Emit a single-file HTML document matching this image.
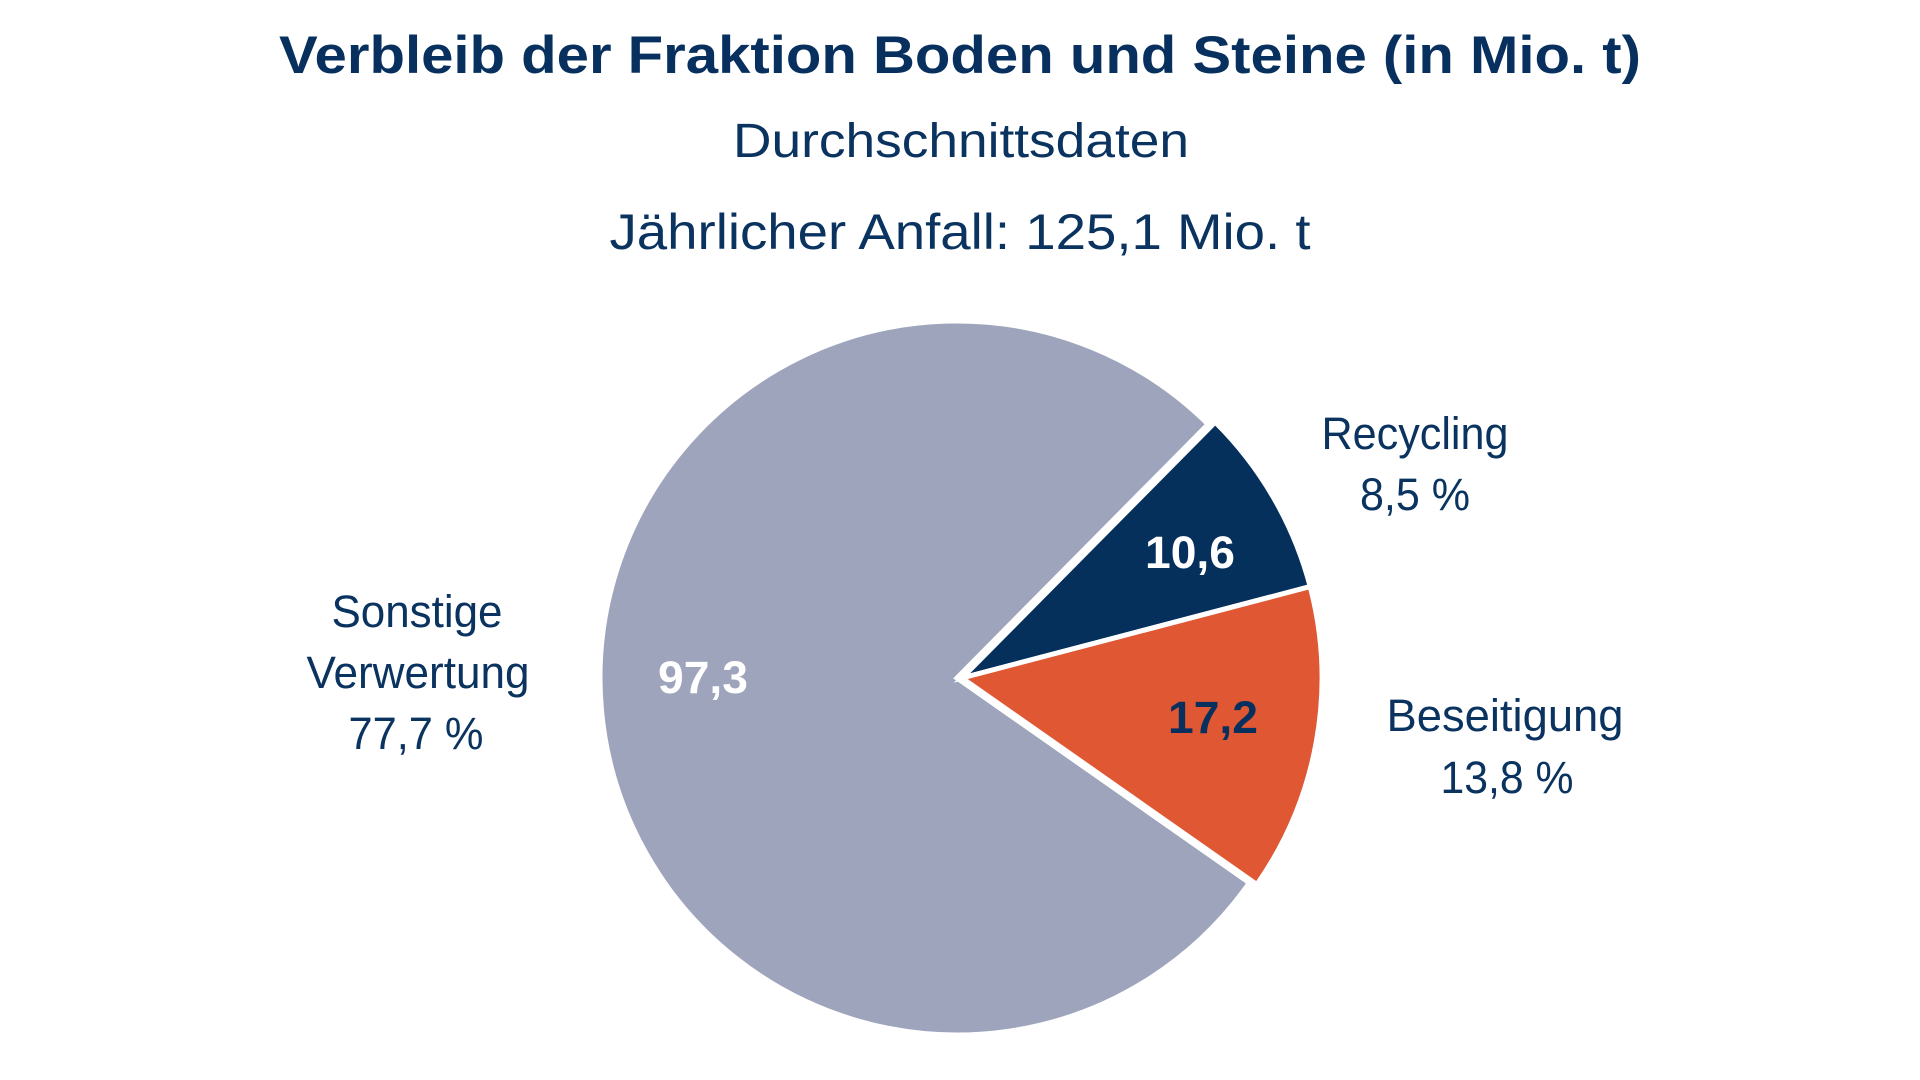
<!DOCTYPE html>
<html>
<head>
<meta charset="utf-8">
<style>
  html, body { margin: 0; padding: 0; background: #ffffff; }
  body { width: 1920px; height: 1080px; overflow: hidden; }
  svg { display: block; }
  text { font-family: "Liberation Sans", "DejaVu Sans", sans-serif; }
</style>
</head>
<body>
<svg width="1920" height="1080" viewBox="0 0 1920 1080" xmlns="http://www.w3.org/2000/svg">
  <rect x="0" y="0" width="1920" height="1080" fill="#ffffff"/>

  <!-- Titles -->
  <text x="960" y="73" text-anchor="middle" font-size="53" font-weight="bold" fill="#07305E" textLength="1362" lengthAdjust="spacingAndGlyphs">Verbleib der Fraktion Boden und Steine (in Mio. t)</text>
  <text x="961" y="157" text-anchor="middle" font-size="48" fill="#0B3360" textLength="456" lengthAdjust="spacingAndGlyphs">Durchschnittsdaten</text>
  <text x="960" y="249" text-anchor="middle" font-size="50" fill="#0B3360" textLength="701" lengthAdjust="spacingAndGlyphs">Jährlicher Anfall: 125,1 Mio. t</text>

  <!-- Pie slices -->
  <path d="M957,678 L1208.1,424.2 A357,357 0 1 0 1249.4,882.8 Z" fill="#9DA4BC" stroke="#ffffff" stroke-width="5" stroke-linejoin="miter"/>
  <path d="M962,678 L1310.2,586.6 A360,360 0 0 0 1215.2,422.1 Z" fill="#05305C" stroke="#ffffff" stroke-width="5" stroke-linejoin="miter"/>
  <path d="M962,678 L1256.9,884.5 A360,360 0 0 0 1310.2,586.6 Z" fill="#E05733" stroke="#ffffff" stroke-width="5" stroke-linejoin="miter"/>

  <!-- Values in slices -->
  <text x="1190" y="568" text-anchor="middle" font-size="45" font-weight="bold" fill="#ffffff" textLength="90" lengthAdjust="spacingAndGlyphs">10,6</text>
  <text x="1213" y="733" text-anchor="middle" font-size="45" font-weight="bold" fill="#07305E" textLength="90" lengthAdjust="spacingAndGlyphs">17,2</text>
  <text x="703" y="693" text-anchor="middle" font-size="45" font-weight="bold" fill="#ffffff" textLength="90" lengthAdjust="spacingAndGlyphs">97,3</text>

  <!-- Outside labels -->
  <text x="1415" y="449" text-anchor="middle" font-size="45" fill="#0B3360" textLength="187" lengthAdjust="spacingAndGlyphs">Recycling</text>
  <text x="1415" y="510" text-anchor="middle" font-size="45" fill="#0B3360" textLength="110" lengthAdjust="spacingAndGlyphs">8,5 %</text>

  <text x="1505" y="731" text-anchor="middle" font-size="45" fill="#0B3360" textLength="237" lengthAdjust="spacingAndGlyphs">Beseitigung</text>
  <text x="1507" y="793" text-anchor="middle" font-size="45" fill="#0B3360" textLength="133" lengthAdjust="spacingAndGlyphs">13,8 %</text>

  <text x="417" y="627" text-anchor="middle" font-size="45" fill="#0B3360" textLength="171" lengthAdjust="spacingAndGlyphs">Sonstige</text>
  <text x="418" y="688" text-anchor="middle" font-size="45" fill="#0B3360" textLength="223" lengthAdjust="spacingAndGlyphs">Verwertung</text>
  <text x="416" y="749" text-anchor="middle" font-size="45" fill="#0B3360" textLength="135" lengthAdjust="spacingAndGlyphs">77,7 %</text>
</svg>
</body>
</html>
